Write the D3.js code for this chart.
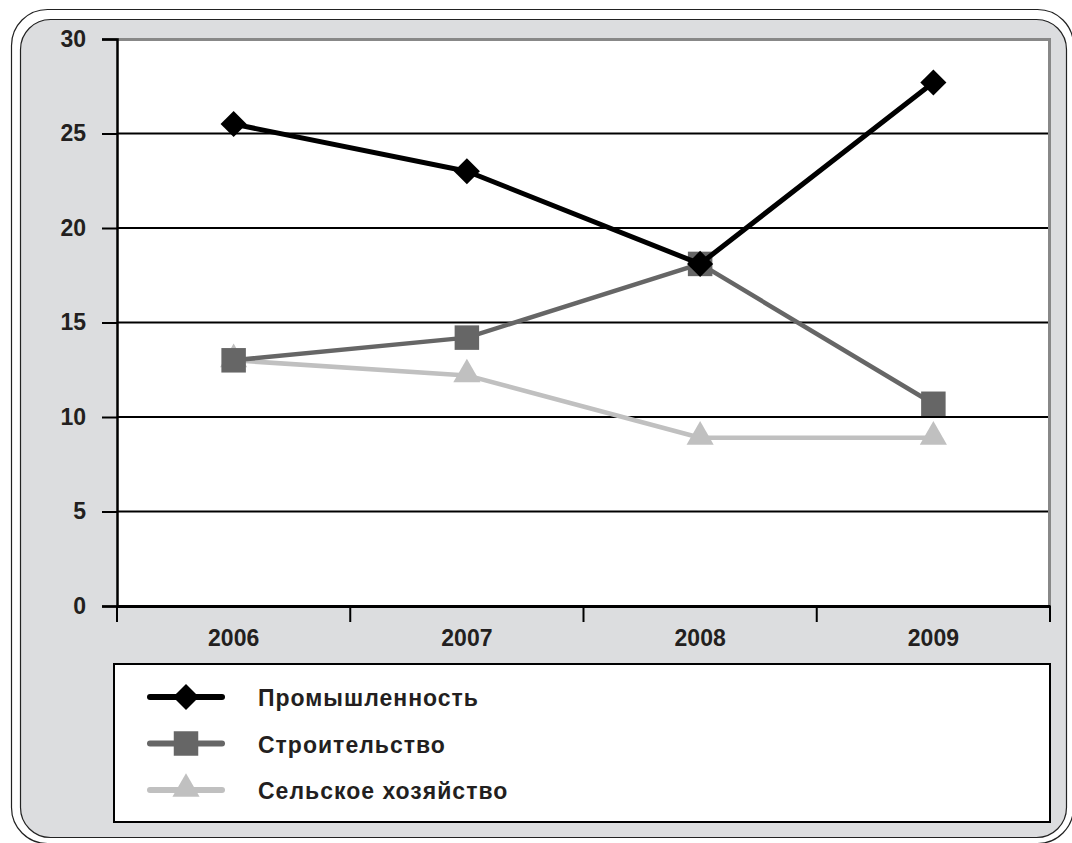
<!DOCTYPE html>
<html>
<head>
<meta charset="utf-8">
<title>Отрасли 2006-2009</title>
<script src="https://cdn.jsdelivr.net/npm/d3@7/dist/d3.min.js"></script>
<style>
  body { margin: 0; background: #fff; }
  text { font-family: "Liberation Sans", Arial, sans-serif; font-weight: bold; fill: #231f20; }
</style>
</head>
<body>
<script>
// data
var years = ["2006", "2007", "2008", "2009"];
var promyshl = [25.5, 23.0, 18.1, 27.7];
var stroit = [13.0, 14.2, 18.1, 10.7];
var selsk = [13.0, 12.2, 8.9, 8.9];
var yTicks = [0, 5, 10, 15, 20, 25, 30];
var seriesNames = ["Промышленность", "Строительство", "Сельское хозяйство"];

var series = [
  {name: seriesNames[0], values: promyshl, color: "#000", width: 5, symbol: "diamond"},
  {name: seriesNames[1], values: stroit, color: "#666", width: 4.5, symbol: "square"},
  {name: seriesNames[2], values: selsk, color: "#c0c0c0", width: 4.5, symbol: "triangle"}
];

var W = 1072, H = 843;
var plot = {left: 117, right: 1050, top: 39, bottom: 606};

var svg = d3.select("body").append("svg")
  .attr("width", W)
  .attr("height", H);

// frame
svg.append("rect")
  .attr("x", 11.5).attr("y", 9.5)
  .attr("width", 1062).attr("height", 834)
  .attr("rx", 36)
  .attr("fill", "#fff").attr("stroke", "#222").attr("stroke-width", 1.2);
svg.append("rect")
  .attr("x", 20.5).attr("y", 19.5)
  .attr("width", 1046).attr("height", 818)
  .attr("rx", 30)
  .attr("fill", "#dcdddf").attr("stroke", "#222").attr("stroke-width", 1.2);

var x = d3.scaleBand().domain(years).range([plot.left, plot.right]);
var y = d3.scaleLinear().domain([0, 30]).range([plot.bottom, plot.top]);

// plot area
svg.append("rect")
  .attr("x", plot.left).attr("y", plot.top)
  .attr("width", plot.right - plot.left).attr("height", plot.bottom - plot.top)
  .attr("fill", "#fff");
svg.append("path")
  .attr("d", "M" + plot.left + "," + (plot.top + 0.5) + "H" + (plot.right - 0.5) + "V" + plot.bottom)
  .attr("fill", "none").attr("stroke", "#888").attr("stroke-width", 3);

// grid
svg.append("g").selectAll("line")
  .data(yTicks.filter(function(d) { return d > 0 && d < 30; }))
  .enter().append("line")
  .attr("x1", plot.left).attr("x2", plot.right - 2)
  .attr("y1", function(d) { return y(d); })
  .attr("y2", function(d) { return y(d); })
  .attr("stroke", "#000").attr("stroke-width", 2);

// y axis
var yAxis = svg.append("g")
  .attr("transform", "translate(" + plot.left + ",0)")
  .call(d3.axisLeft(y).tickValues(yTicks).tickSize(15).tickPadding(16));
yAxis.select(".domain").attr("stroke", "#000").attr("stroke-width", 2.5);
yAxis.selectAll(".tick line").attr("stroke", "#000").attr("stroke-width", 2);
yAxis.selectAll("text").style("font-size", "23px").attr("fill", "#231f20");

// x axis
var xAxis = svg.append("g")
  .attr("transform", "translate(0," + plot.bottom + ")")
  .call(d3.axisBottom(x).tickSize(0).tickPadding(24));
xAxis.select(".domain").attr("stroke", "#000").attr("stroke-width", 3);
xAxis.selectAll("text").style("font-size", "23px").attr("fill", "#231f20");
xAxis.selectAll(".sep")
  .data(years.concat(["end"]))
  .enter().append("line")
  .attr("class", "sep")
  .attr("x1", function(d, i) { return i < years.length ? x(d) : plot.right; })
  .attr("x2", function(d, i) { return i < years.length ? x(d) : plot.right; })
  .attr("y1", 0).attr("y2", 16)
  .attr("stroke", "#000").attr("stroke-width", 2);

var symbols = {
  diamond: d3.symbol().type(d3.symbolSquare).size(340),
  square: d3.symbol().type(d3.symbolSquare).size(600),
  triangle: d3.symbol().type(d3.symbolTriangle).size(320)
};

function marker(g, s, cx, cy) {
  var m = g.append("path")
    .attr("d", symbols[s.symbol]())
    .attr("fill", s.color);
  if (s.symbol === "diamond") m.attr("transform", "translate(" + cx + "," + cy + ") rotate(45)");
  else if (s.symbol === "triangle") m.attr("transform", "translate(" + cx + "," + (cy - 1) + ")");
  else m.attr("transform", "translate(" + cx + "," + cy + ")");
}

var line = d3.line()
  .x(function(d, i) { return x(years[i]) + x.bandwidth() / 2; })
  .y(function(d) { return y(d); });

// draw in reverse so the black line is on top
series.slice().reverse().forEach(function(s) {
  var g = svg.append("g");
  g.append("path")
    .attr("d", line(s.values))
    .attr("fill", "none")
    .attr("stroke", s.color)
    .attr("stroke-width", s.width)
    .attr("stroke-linejoin", "round");
  s.values.forEach(function(v, i) {
    marker(g, s, x(years[i]) + x.bandwidth() / 2, y(v));
  });
});

// legend
var legend = svg.append("g");
legend.append("rect")
  .attr("x", 114).attr("y", 664)
  .attr("width", 936).attr("height", 158)
  .attr("fill", "#fff").attr("stroke", "#000").attr("stroke-width", 2);

series.forEach(function(s, i) {
  var ly = 697 + i * 46.5;
  legend.append("line")
    .attr("x1", 150).attr("x2", 222)
    .attr("y1", ly).attr("y2", ly)
    .attr("stroke", s.color).attr("stroke-width", 6)
    .attr("stroke-linecap", "round");
  marker(legend, s, 186, ly);
  legend.append("text")
    .attr("x", 258).attr("y", ly + 9)
    .style("font-size", "23px")
    .style("letter-spacing", "1px")
    .text(s.name);
});
</script>
</body>
</html>
